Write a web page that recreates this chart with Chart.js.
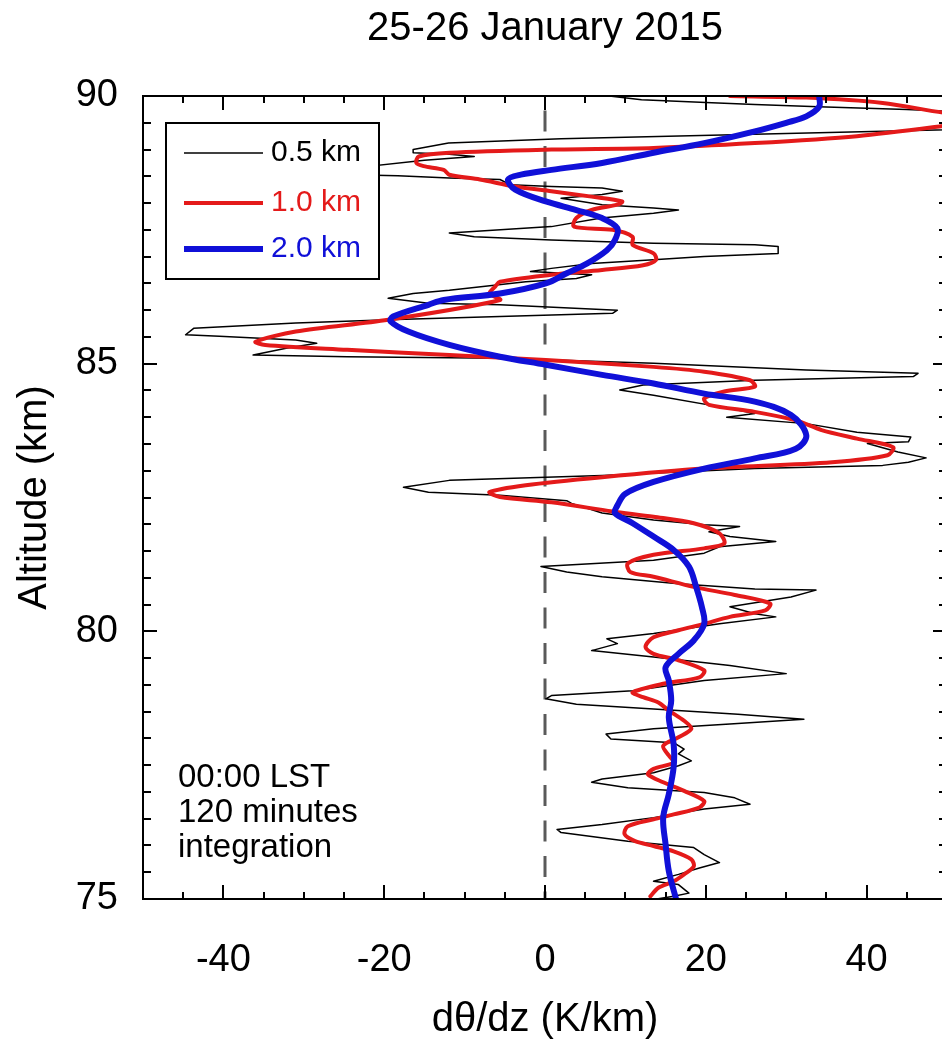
<!DOCTYPE html>
<html>
<head>
<meta charset="utf-8">
<script src="https://cdn.jsdelivr.net/npm/chart.js@4.4.1/dist/chart.umd.min.js"></script>
<style>
  html, body { margin: 0; padding: 0; overflow: hidden; background: #fff; }
  canvas { display: block; }
</style>
</head>
<body>
<canvas id="profile" width="960" height="1047"></canvas>
<script>
// dθ/dz profiles, 75-90 km, three vertical resolutions
const FONT = '"Liberation Sans", Arial, Helvetica, sans-serif';

const seriesLabels = ['0.5 km', '1.0 km', '2.0 km'];
const seriesColors = ['#000000', '#e41a1a', '#1010d8'];
const seriesWidths = [1.5, 4, 6];
const seriesTension = [0, 0.3, 0.35];

const xTicks = [-40, -20, 0, 20, 40];
const yTicks = [75, 80, 85, 90];

// 0.5 km
const alt05 = [90.0, 89.93, 89.88, 89.84, 89.8, 89.75, 89.68, 89.5, 89.37, 89.2, 89.12, 89.0, 88.94, 88.91, 88.87, 88.8,
  88.62, 88.53, 88.51, 88.47, 88.44, 88.34, 88.31, 88.28, 88.22, 88.16, 88.09, 87.97, 87.91, 87.87, 87.81, 87.72, 87.56,
  87.44, 87.37, 87.31, 87.25, 87.22, 87.19, 87.06, 87.0, 86.94, 86.87, 86.78, 86.72, 86.66, 86.59, 86.53, 86.37, 86.31,
  86.22, 86.13, 86.1, 86.0, 85.94, 85.88, 85.82, 85.76, 85.66, 85.54, 85.51, 85.44, 85.38, 85.29, 85.16, 85.13, 85.1,
  85.01, 84.88, 84.82, 84.76, 84.69, 84.6, 84.51, 84.41, 84.16, 84.07, 84.0, 83.88, 83.72, 83.63, 83.54, 83.51, 83.35,
  83.24, 83.16, 83.1, 83.04, 82.91, 82.82, 82.69, 82.6, 82.54, 82.44, 82.39, 82.21, 82.08, 81.99, 81.96, 81.86, 81.77,
  81.68, 81.58, 81.46, 81.33, 81.21, 81.11, 81.02, 80.89, 80.79, 80.77, 80.64, 80.46, 80.33, 80.27, 80.14, 79.96, 79.86,
  79.77, 79.64, 79.52, 79.36, 79.21, 79.08, 78.89, 78.8, 78.74, 78.64, 78.55, 78.45, 78.36, 78.27, 78.18, 78.08, 77.99,
  77.92, 77.8, 77.71, 77.58, 77.49, 77.36, 77.24, 77.18, 77.08, 76.99, 76.89, 76.77, 76.68, 76.52, 76.39, 76.3, 76.24,
  76.08, 75.96, 75.83, 75.68, 75.58, 75.46, 75.33, 75.27, 75.11, 75.05, 74.99];
const dth05 = [8, 12, 20, 26.1, 34, 45, 55, 58, 50, 2, -12, -16.4, -16.4, -11.9, -8.8, -15,
  -26, -24, -18.3, -11.9, -5.6, -4.3, 0.8, 7.1, 9.6, 7.1, 2.0, 7.1, 13.5, 16.6, 13.5, 7.0, 0.8,
  -11.9, -8.8, 0.8, 13.5, 26.1, 29.0, 29.0, 19.8, 13.5, 5.8, 0.8, -1.8, 5.8, 3.9, -2.4, -11.9, -16.4,
  -19.5, -14.5, -5.6, 9.0, 8.4, -5.6, -19.5, -31, -43.7, -44.7, -40.5, -31, -28.4, -32.2, -36.3, -24.6, -5.6,
  13.5, 32.5, 46.4, 45.8, 26.1, 12.2, 9.3, 13.5, 23.0, 26.1, 22.6, 32.5, 38.8, 45.5, 45.2, 40.1, 43.9,
  47.4, 45.2, 42.0, 26.1, 7.1, -11.9, -17.6, -14.5, -5.6, 2.7, 3.3, 7.1, 13.5, 19.8, 24.2, 20.4, 23.0,
  28.7, 21.7, 19.8, 13.5, -0.5, 2.7, 7.1, 16.6, 26.1, 33.7, 30.6, 23.0, 26.1, 28.7, 21.7, 13.5, 7.7,
  9.0, 5.8, 13.5, 23.0, 30.0, 19.8, 10.9, 0.8, 0.1, 3.9, 13.5, 24, 32.2, 23.0, 13.5, 7.6, 8.2,
  16.0, 17.3, 16.6, 18.2, 16.6, 13.5, 7.1, 5.8, 10.3, 19.8, 23.6, 25.5, 19.8, 13.5, 7.1, 1.5, 2.0,
  10.3, 18.5, 19.8, 21.7, 19.2, 16.6, 13.5, 16.6, 17.9, 16.0, 13.5];

// 1.0 km
const alt10 = [90.0, 89.97, 89.87, 89.69, 89.58, 89.44, 89.25, 89.12, 89.03, 89.0, 88.94, 88.87, 88.75, 88.69, 88.62,
  88.53, 88.44, 88.31, 88.22, 88.12, 88.03, 87.97, 87.87, 87.72, 87.56, 87.5, 87.37, 87.22, 87.06, 86.94, 86.84, 86.75,
  86.66, 86.53, 86.44, 86.31, 86.19, 85.82, 85.6, 85.41, 85.35, 85.26, 85.16, 85.07, 84.94, 84.85, 84.69, 84.57, 84.48,
  84.35, 84.23, 84.1, 83.94, 83.76, 83.6, 83.44, 83.29, 83.16, 83.04, 82.88, 82.73, 82.6, 82.51, 82.41, 82.24, 82.14,
  82.02, 81.83, 81.64, 81.55, 81.43, 81.27, 81.11, 81.02, 80.83, 80.68, 80.52, 80.39, 80.27, 80.14, 80.02, 79.89, 79.71,
  79.58, 79.46, 79.27, 79.14, 79.02, 78.86, 78.77, 78.67, 78.52, 78.33, 78.18, 78.02, 77.86, 77.68, 77.55, 77.43, 77.33,
  77.18, 77.02, 76.83, 76.71, 76.58, 76.49, 76.36, 76.21, 76.08, 75.99, 75.89, 75.74, 75.61, 75.46, 75.33, 75.21, 75.05];
const dth10 = [23.0, 32.5, 42, 49.5, 56, 49.5, 38.8, 26.1, 13.5, 0.8, -11.9, -15.7, -16.0, -15.1, -12.6,
  -11.9, -8.1, -3.7, 0.8, 5.8, 9.6, 9.0, 5.8, 3.9, 3.6, 8.4, 10.9, 10.9, 13.5, 13.8, 12.2, 7.1,
  0.8, -5.6, -6.2, -6.9, -5.6, -19.5, -31, -36, -34.8, -24.6, -11.9, 0.1, 13.5, 19.8, 25.5, 26.1, 22.3,
  19.8, 20.4, 26.1, 31.2, 34.4, 38.8, 43.3, 42.6, 35.7, 19.8, 7.1, -2.4, -6.9, -5.6, 0.8, 8.4, 13.5,
  18.5, 21.7, 22.3, 19.8, 13.5, 10.3, 10.6, 13.5, 18.5, 23.6, 28.0, 27.4, 23.0, 19.8, 16.6, 13.5, 12.5,
  13.5, 16.6, 19.8, 19.2, 14.7, 10.9, 12.2, 14.1, 15.4, 17.3, 18.2, 16.6, 14.7, 15.4, 16.0, 13.5, 12.8,
  14.7, 17.3, 19.8, 19.2, 16.0, 13.5, 10.3, 9.9, 11.2, 13.5, 16.0, 18.2, 18.5, 17.3, 16.0, 14.1, 13.1];

// 2.0 km
const alt20 = [90.0, 89.8, 89.62, 89.5, 89.34, 89.12, 88.94, 88.75, 88.62, 88.53, 88.44, 88.25, 88.03, 87.87, 87.72,
  87.53, 87.31, 87.12, 86.87, 86.69, 86.5, 86.31, 86.19, 86.1, 85.88, 85.79, 85.6, 85.35, 85.13, 84.98, 84.79, 84.63,
  84.44, 84.29, 84.04, 83.66, 83.41, 83.23, 83.04, 82.79, 82.57, 82.35, 82.21, 82.02, 81.77, 81.52, 81.21, 80.83, 80.46,
  80.14, 79.83, 79.58, 79.33, 79.08, 78.71, 78.39, 77.89, 77.46, 76.96, 76.52, 76.02, 75.52, 75.0];
const dth20 = [34.1, 34.1, 32.5, 30, 26.1, 19.8, 13.5, 7.1, 0.8, -3.0, -4.6, -3.7, 0.1, 3.9, 7.1,
  9.0, 8.7, 7.7, 5.2, 2.7, 0.1, -5.6, -12.6, -14.5, -18.9, -19.2, -17.0, -11.9, -5.6, 0.1, 7.1, 13.5,
  19.8, 26.1, 30.6, 32.5, 31.2, 26.1, 19.8, 13.5, 10.0, 9.0, 8.7, 10.9, 13.5, 16.0, 17.9, 18.8, 19.5,
  19.8, 18.5, 16.6, 15.0, 15.4, 15.7, 15.4, 16.0, 16.0, 15.4, 14.7, 15.0, 15.4, 16.3];

const noteLines = ['00:00 LST', '120 minutes', 'integration'];

function toPoints(alts, vals) {
  return alts.map((a, i) => ({ x: vals[i], y: a }));
}

const profiles = [toPoints(alt05, dth05), toPoints(alt10, dth10), toPoints(alt20, dth20)];

// inward ticks on all four sides plus the frame
const frameTicks = {
  id: 'frameTicks',
  afterDatasetsDraw(chart) {
    const { ctx, chartArea: a, scales: { x, y } } = chart;
    ctx.save();
    ctx.strokeStyle = '#000';
    ctx.lineWidth = 2;
    ctx.strokeRect(a.left, a.top, a.right - a.left, a.bottom - a.top);
    ctx.beginPath();
    for (let v = -45; v <= 45; v += 5) {
      const len = xTicks.includes(v) ? 14 : 7;
      const px = Math.round(x.getPixelForValue(v));
      ctx.moveTo(px, a.bottom); ctx.lineTo(px, a.bottom - len);
      ctx.moveTo(px, a.top); ctx.lineTo(px, a.top + len);
    }
    for (let v = 75.5; v < 90; v += 0.5) {
      const len = yTicks.includes(v) ? 14 : 8;
      const py = Math.round(y.getPixelForValue(v));
      ctx.moveTo(a.left, py); ctx.lineTo(a.left + len, py);
      ctx.moveTo(a.right, py); ctx.lineTo(a.right - len, py);
    }
    ctx.stroke();
    ctx.restore();
  }
};

// boxed legend in the upper left corner
const boxLegend = {
  id: 'boxLegend',
  afterDraw(chart) {
    const { ctx } = chart;
    const box = { x: 166, y: 123, w: 213, h: 156 };
    const rows = [153, 203, 249];
    ctx.save();
    ctx.fillStyle = '#fff';
    ctx.fillRect(box.x, box.y, box.w, box.h);
    ctx.strokeStyle = '#000';
    ctx.lineWidth = 2;
    ctx.strokeRect(box.x, box.y, box.w, box.h);
    ctx.font = '30px ' + FONT;
    ctx.textBaseline = 'middle';
    ctx.textAlign = 'left';
    chart.data.datasets.slice(0, 3).forEach((ds, i) => {
      ctx.strokeStyle = ds.borderColor;
      ctx.lineWidth = ds.borderWidth;
      ctx.beginPath();
      ctx.moveTo(184, rows[i]);
      ctx.lineTo(263, rows[i]);
      ctx.stroke();
      ctx.fillStyle = ds.borderColor;
      ctx.fillText(ds.label, 271, rows[i]);
    });
    ctx.restore();
  }
};

const noteText = {
  id: 'noteText',
  afterDraw(chart) {
    const { ctx } = chart;
    ctx.save();
    ctx.font = '33px ' + FONT;
    ctx.fillStyle = '#000';
    ctx.textBaseline = 'middle';
    noteLines.forEach((t, i) => ctx.fillText(t, 178, 778 + i * 35));
    ctx.restore();
  }
};

new Chart(document.getElementById('profile'), {
  type: 'scatter',
  data: {
    datasets: [
      ...profiles.map((pts, i) => ({
        label: seriesLabels[i],
        data: pts,
        showLine: true,
        borderColor: seriesColors[i],
        borderWidth: seriesWidths[i],
        borderJoinStyle: 'round',
        borderCapStyle: 'round',
        pointRadius: 0,
        tension: seriesTension[i],
        order: 2 - i
      })),
      {
        label: 'zero',
        data: [{ x: 0, y: 90 }, { x: 0, y: 75 }],
        showLine: true,
        borderColor: '#5a5a5a',
        borderWidth: 3,
        borderDash: [21, 14.5],
        borderDashOffset: 21,
        pointRadius: 0,
        order: 3
      }
    ]
  },
  options: {
    responsive: false,
    animation: false,
    events: [],
    layout: { padding: { left: 0, right: 13, top: 0, bottom: 0 } },
    plugins: {
      legend: { display: false },
      tooltip: { enabled: false },
      title: {
        display: true,
        text: '25-26 January 2015',
        fullSize: false,
        color: '#000',
        font: { family: FONT, size: 40, weight: 'normal' },
        padding: { top: 5, bottom: 43 }
      }
    },
    scales: {
      x: {
        type: 'linear',
        min: -50,
        max: 50,
        afterBuildTicks: s => { s.ticks = xTicks.map(v => ({ value: v })); },
        afterFit: s => { s.height = 148; },
        grid: { display: false },
        border: { display: false },
        ticks: { color: '#000', font: { family: FONT, size: 38 }, padding: 31, maxRotation: 0, autoSkip: false },
        title: {
          display: true,
          text: 'dθ/dz (K/km)',
          color: '#000',
          font: { family: FONT, size: 40 },
          padding: { top: 0, bottom: 3 }
        }
      },
      y: {
        type: 'linear',
        min: 75,
        max: 90,
        afterBuildTicks: s => { s.ticks = yTicks.map(v => ({ value: v })); },
        afterFit: s => { s.width = 143; },
        grid: { display: false },
        border: { display: false },
        ticks: { color: '#000', font: { family: FONT, size: 38 }, padding: 17, autoSkip: false },
        title: {
          display: true,
          text: 'Altitude (km)',
          color: '#000',
          font: { family: FONT, size: 40 },
          padding: { top: 11, bottom: 0 }
        }
      }
    }
  },
  plugins: [frameTicks, boxLegend, noteText]
});
</script>
</body>
</html>
